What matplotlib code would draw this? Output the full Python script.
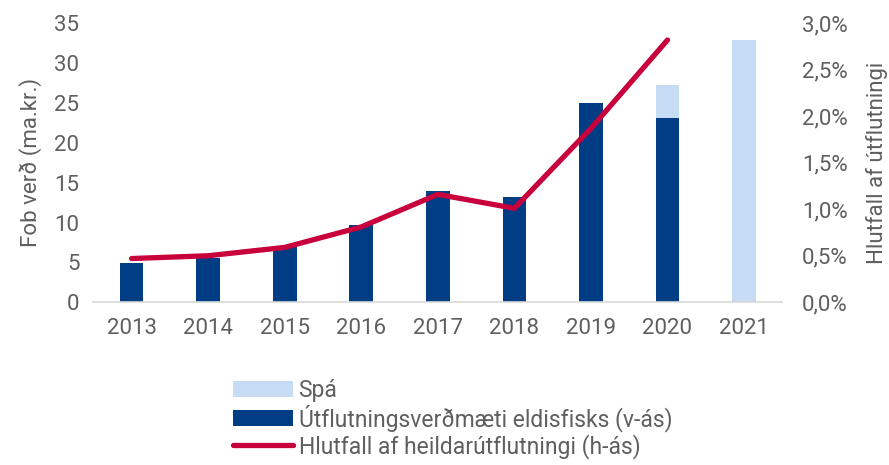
import matplotlib.pyplot as plt
from matplotlib.ticker import FuncFormatter

plt.rcParams['font.family'] = ['Roboto', 'DejaVu Sans']

years = ['2013', '2014', '2015', '2016', '2017', '2018', '2019', '2020', '2021']
export_value = [4.9, 5.5, 6.9, 9.7, 14.0, 13.2, 25.0, 23.1, 0]
forecast = [0, 0, 0, 0, 0, 0, 0, 4.1, 32.9]
share_years = years[:8]
share_pct = [0.47, 0.50, 0.59, 0.81, 1.16, 1.01, 1.87, 2.82]

dark_blue = '#003d85'
light_blue = '#c6dcf4'
red = '#c8003c'
grey = '#5f5f5f'

fig = plt.figure(figsize=(8.89, 4.65), dpi=100)
ax = fig.add_axes([0.105, 0.35, 0.775, 0.60])
ax2 = ax.twinx()

x = list(range(len(years)))
b1 = ax.bar(x, export_value, width=0.31, color=dark_blue, zorder=2)
b2 = ax.bar(x, forecast, width=0.31, bottom=export_value, color=light_blue, zorder=2)
ln, = ax2.plot(x[:len(share_pct)], share_pct, color=red, linewidth=3.8,
               solid_capstyle='round', solid_joinstyle='round')

ax.set_xlim(-0.5, len(years) - 0.5)
ax.set_ylim(0, 35)
ax.set_yticks(range(0, 36, 5))
ax2.set_ylim(0, 3.0)
ax2.set_yticks([0, 0.5, 1.0, 1.5, 2.0, 2.5, 3.0])
ax2.yaxis.set_major_formatter(FuncFormatter(lambda v, p: f'{v:.1f}%'.replace('.', ',')))

ax.set_xticks(x)
ax.set_xticklabels(years)

for a in (ax, ax2):
    for s in a.spines.values():
        s.set_visible(False)
    a.tick_params(length=0, labelsize=16, colors=grey)
ax.spines['bottom'].set_visible(True)
ax.spines['bottom'].set_color('#d9d9d9')
ax.spines['bottom'].set_linewidth(1.2)
ax.tick_params(axis='x', pad=11)
ax.tick_params(axis='y', pad=10)
ax2.tick_params(axis='y', pad=14)

ax.set_ylabel('Fob verð (ma.kr.)', fontsize=16, color=grey, labelpad=9)
ax2.set_ylabel('Hlutfall af útflutningi', fontsize=16, color=grey, rotation=90, labelpad=13)

fig.legend([b2, b1, ln],
           ['Spá', 'Útflutningsverðmæti eldisfisks (v-ás)', 'Hlutfall af heildarútflutningi (h-ás)'],
           loc='upper left', bbox_to_anchor=(0.252, 0.205), frameon=False,
           fontsize=16.5, labelcolor=grey, handlelength=2.6, handletextpad=0.25,
           labelspacing=0.1, borderaxespad=0)

fig.savefig('out.png', dpi=100)
